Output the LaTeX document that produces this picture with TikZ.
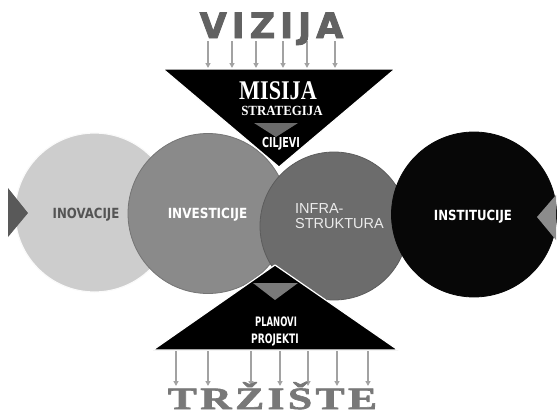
\documentclass[tikz,border=0pt]{standalone}
\usepackage{fontspec}
\newfontfamily\dvs{DejaVu Sans}
\newfontfamily\vizfont[FakeBold=2.5]{DejaVu Sans Bold}
\newfontfamily\trzfont[FakeBold=2]{Liberation Serif Bold}
\newfontfamily\lsans{Liberation Sans}
\newfontfamily\lserif{Liberation Serif}
\usetikzlibrary{arrows.meta}
\definecolor{cone}{HTML}{CDCDCD}
\definecolor{ctwo}{HTML}{8A8A8A}
\definecolor{cthree}{HTML}{6C6C6C}
\definecolor{cfour}{HTML}{070707}
\definecolor{arrowgray}{HTML}{A2A2A2}
\definecolor{vizgray}{HTML}{626262}
\definecolor{titlegray}{HTML}{787878}
\begin{document}
\begin{tikzpicture}[x=1pt,y=-1pt,
  disc/.style={circle,inner sep=0pt,minimum size=#1},
  flow/.style={draw=arrowgray,line width=1.4pt,-{Triangle[length=5pt,width=5pt]}},
  bigtri/.style={fill=black,draw=white,line width=1.2pt,line join=round},
  smalltri/.style={fill=#1,draw=none},
  ctext/.style={inner sep=0pt,anchor=base,font=\dvs\bfseries\fontsize{14}{16}\selectfont},
  wtext/.style={inner sep=0pt,anchor=base,text=white}]
\useasboundingbox (0,0) rectangle (558,415);
% circles
\node[disc=159,fill=cone,draw=white!90!cone,line width=1.2pt] (c1) at (94.5,212.5) {};
\node[disc=160,fill=ctwo,draw=ctwo!85!black,line width=0.8pt] (c2) at (208,213.5) {};
\node[disc=148,fill=cthree,draw=cthree!85!black,line width=0.8pt] (c3) at (334,226) {};
\node[disc=165,fill=cfour,draw=cfour,line width=0.8pt] (c4) at (474,214.5) {};
% side arrowheads
\fill[fill=black!65] (8,188) -- (28,213) -- (8,237) -- cycle;
\fill[fill=black!45] (556,195) -- (537,217) -- (556,240) -- cycle;
% top triangle
\coordinate (tl) at (163,69);
\coordinate (tr) at (395,69);
\coordinate (tb) at (279,167);
\draw[bigtri] (tl) -- (tr) -- (tb) -- cycle;
\fill[smalltri=black!58] (254,123) -- (298,123) -- (276,137) -- cycle;
% bottom triangle
\coordinate (bt) at (275,265);
\coordinate (bl) at (153,350);
\coordinate (br) at (398,350);
\draw[bigtri] (bt) -- (br) -- (bl) -- cycle;
\fill[smalltri=black!52] (253,283) -- (298,283) -- (275,300) -- cycle;
% top arrows
\foreach \i/\x in {1/208,2/232,3/256,4/283,5/307,6/335}{
  \coordinate (va\i) at (\x,41);
  \coordinate (vb\i) at (\x,68);
  \draw[flow] (va\i) -- (vb\i);
}
% bottom arrows
\foreach \i/\x in {1/176,2/208,3/251,4/280,5/308,6/337,7/368}{
  \coordinate (ta\i) at (\x,351);
  \coordinate (tb\i) at (\x,386);
  \draw[flow] (ta\i) -- (tb\i);
}
% titles
\node[inner sep=0pt,anchor=base,text=vizgray,font=\vizfont\fontsize{35}{40}\selectfont] (viz) at (271.5,38)
  {V\kern5pt I\kern5pt Z\kern5pt I\kern5pt J\kern5pt A};
\node[inner sep=0pt,anchor=base,text=titlegray,font=\trzfont\fontsize{31}{36}\selectfont] (trz) at (272.5,409)
  {\scalebox{1.4}[1]{T\kern2.5pt R\kern2.5pt Ž\kern2.5pt I\kern2.5pt Š\kern2.5pt T\kern2.5pt E}};
% triangle texts
\node[wtext,font=\lserif\bfseries\fontsize{27}{30}\selectfont] (mis) at (278,99) {\scalebox{0.82}[1]{MISIJA}};
\node[wtext,font=\lserif\bfseries\fontsize{14}{16}\selectfont] (str) at (282,115) {\scalebox{0.92}[1]{STRATEGIJA}};
\node[wtext,font=\dvs\bfseries\fontsize{13.7}{15}\selectfont] (cil) at (281,147.5) {\scalebox{0.7}[1]{CILJEVI}};
\node[wtext,font=\dvs\bfseries\fontsize{13}{15}\selectfont] (pla) at (276,326) {\scalebox{0.65}[1]{PLANOVI}};
\node[wtext,font=\dvs\bfseries\fontsize{13}{15}\selectfont] (pro) at (275,343) {\scalebox{0.7}[1]{PROJEKTI}};
% circle texts
\node[ctext,text=black!67] (t1) at (86,218) {\scalebox{0.84}[1]{INOVACIJE}};
\node[ctext,text=white] (t2) at (207.5,218) {\scalebox{0.86}[1]{INVESTICIJE}};
\node[inner sep=0pt,anchor=base west,text=white!92!black,font=\lsans\fontsize{14.5}{15}\selectfont,align=left] (t3a) at (295,213) {INFRA-};
\node[inner sep=0pt,anchor=base west,text=white!92!black,font=\lsans\fontsize{14.5}{15}\selectfont,align=left] (t3b) at (295,228) {STRUKTURA};
\node[ctext,text=white] (t4) at (473,220) {\scalebox{0.84}[1]{INSTITUCIJE}};
\end{tikzpicture}
\end{document}
